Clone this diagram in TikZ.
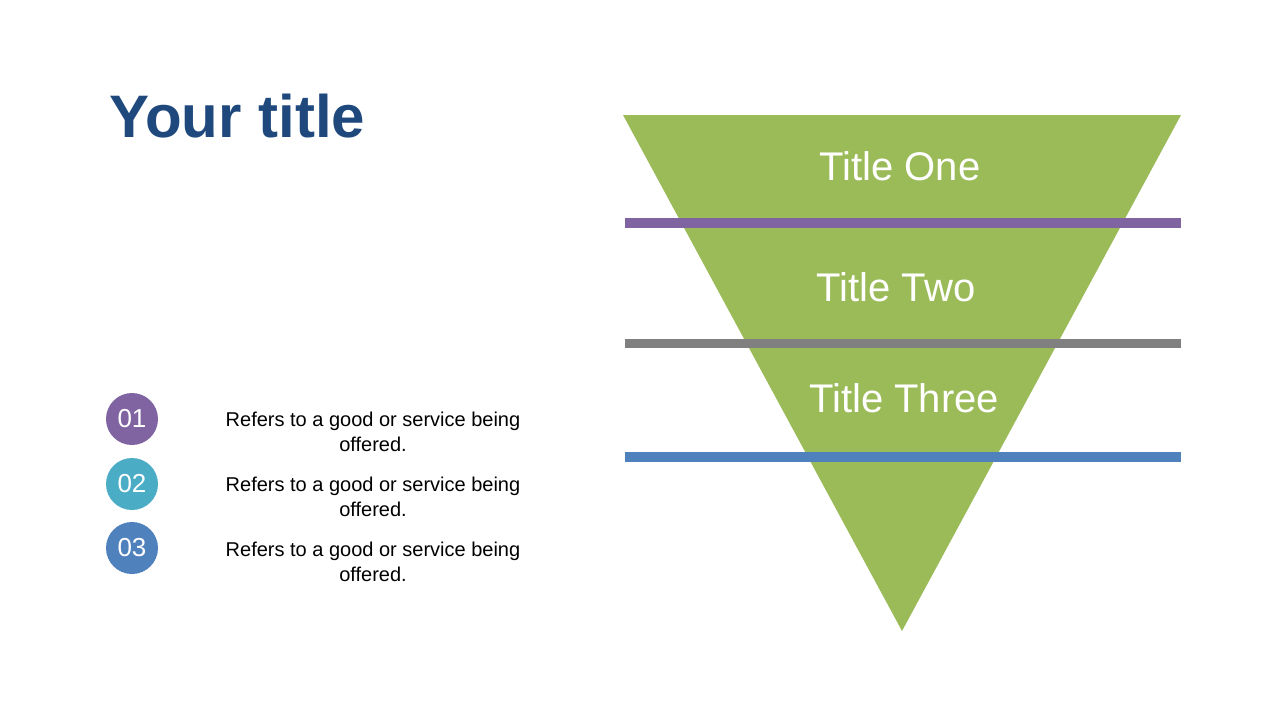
\documentclass[tikz,border=0pt]{standalone}
\usepackage{fontspec}
\setmainfont{Liberation Sans}
\definecolor{tgreen}{HTML}{9BBB59}
\definecolor{tpurple}{HTML}{8064A2}
\definecolor{tgray}{HTML}{808080}
\definecolor{tblue}{HTML}{4F81BD}
\definecolor{tteal}{HTML}{4BACC6}
\definecolor{ttitle}{HTML}{1F497D}
\begin{document}
\begin{tikzpicture}[x=1pt,y=-1pt,
  lvl/.style={text=white,font=\fontsize{40}{44}\selectfont},
  num/.style={circle,minimum size=52pt,inner sep=0pt,text=white,font=\fontsize{26}{28}\selectfont},
  desc/.style={align=center,font=\fontsize{20}{25}\selectfont},
  bar/.style={draw=none}]
\useasboundingbox (0,0) rectangle (1280,720);
\fill[white] (0,0) rectangle (1280,720);
\node[anchor=west,text=ttitle,font=\bfseries\fontsize{60}{64}\selectfont] (title) at (106,116) {Your title};
\fill[tgreen] (623,115) -- (1181,115) -- (902,631) -- cycle;
\fill[tpurple] (625,218) rectangle (1181,228);
\fill[tgray] (625,339) rectangle (1181,348);
\fill[tblue] (625,452) rectangle (1181,462);
\node[lvl] (t1) at (900,166) {Title One};
\node[lvl] (t2) at (896,287) {Title Two};
\node[lvl] (t3) at (904,398) {Title Three};
\node[num,fill=tpurple] (c1) at (132,419) {01};
\node[num,fill=tteal] (c2) at (132,484) {02};
\node[num,fill=tblue] (c3) at (132,548) {03};
\node[desc] (d1) at (373,432) {Refers to a good or service being\\offered.};
\node[desc] (d2) at (373,497) {Refers to a good or service being\\offered.};
\node[desc] (d3) at (373,562) {Refers to a good or service being\\offered.};
\end{tikzpicture}
\end{document}
